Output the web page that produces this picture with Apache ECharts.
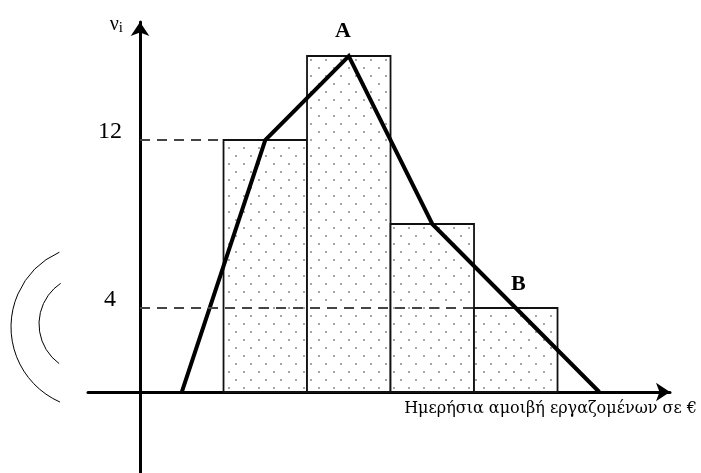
<!DOCTYPE html>
<html>
<head>
<meta charset="utf-8">
<script src="https://cdn.jsdelivr.net/npm/echarts@6/dist/echarts.min.js"></script>
<style>
  html, body { margin: 0; padding: 0; background: #fff; }
  #chart { width: 701px; height: 473px; }
</style>
</head>
<body>
<div id="chart"></div>
<script>
// class edges (in class-width units) and frequencies
var edges = [1, 2, 3, 4, 5];
var freqs = [12, 16, 8, 4];
// frequency polygon (midpoints, closed to zero on both sides)
var polyX = [0.5, 1.5, 2.5, 3.5, 4.5, 5.5];
var polyY = [0, 12, 16, 8, 4, 0];
var notes = [
  { name: 'A', x: 2.43, y: 17.2 },
  { name: 'B', x: 4.53, y: 5.14 }
];

var serif = 'Liberation Serif';

// dotted fill
function dotPattern() {
  var c = document.createElement('canvas');
  c.width = 15; c.height = 16;
  var ctx = c.getContext('2d');
  ctx.fillStyle = '#fff';
  ctx.fillRect(0, 0, 15, 16);
  ctx.fillStyle = '#a5a5a5';
  ctx.fillRect(3, 3, 2, 2);
  ctx.fillRect(10, 11, 2, 2);
  return c;
}
var pattern = { image: dotPattern(), repeat: 'repeat' };

var bars = [];
for (var i = 0; i < freqs.length; i++) {
  bars.push([edges[i], edges[i + 1], freqs[i]]);
}
var poly = polyX.map(function (x, i) { return [x, polyY[i]]; });

// dashed guides from the axis to the bars, labelled with the frequency
function guide(f, xEnd) {
  return [{ name: String(f), coord: [0, f] }, { coord: [xEnd, f] }];
}

var chart = echarts.init(document.getElementById('chart'));
var option = {
  animation: false,
  grid: { left: 88, right: 31, top: 22, bottom: 0 },
  xAxis: {
    type: 'value',
    min: -0.623,
    max: 6.347,
    name: 'Ημερήσια αμοιβή εργαζομένων σε €',
    nameLocation: 'end',
    nameGap: 27,
    nameTextStyle: {
      fontFamily: 'DejaVu Serif', fontSize: 16, color: '#000',
      align: 'right', verticalAlign: 'top', padding: [9, 0, 0, 0]
    },
    axisLine: {
      onZero: true,
      symbol: ['none', 'arrow'],
      symbolSize: [14, 14],
      lineStyle: { color: '#000', width: 3 }
    },
    axisTick: { show: false },
    axisLabel: { show: false },
    splitLine: { show: false }
  },
  yAxis: {
    type: 'value',
    min: -3.857,
    max: 17.62,
    name: '{a|ν}{b|i}',
    nameLocation: 'end',
    nameGap: 9,
    nameTextStyle: {
      align: 'right', verticalAlign: 'top', padding: [0, 17, 0, 0],
      rich: {
        a: { fontFamily: serif, fontSize: 20, color: '#000' },
        b: { fontFamily: serif, fontSize: 15, color: '#000', padding: [8, 0, 0, 0] }
      }
    },
    axisLine: {
      onZero: true,
      symbol: ['none', 'arrow'],
      symbolSize: [14, 14],
      lineStyle: { color: '#000', width: 3 }
    },
    axisTick: { show: false },
    axisLabel: { show: false },
    splitLine: { show: false }
  },
  series: [
    {
      type: 'custom',
      data: bars,
      z: 2,
      renderItem: function (params, api) {
        var p0 = api.coord([api.value(0), api.value(2)]);
        var p1 = api.coord([api.value(1), 0]);
        return {
          type: 'rect',
          shape: { x: p0[0], y: p0[1], width: p1[0] - p0[0], height: p1[1] - p0[1] },
          style: { fill: pattern, stroke: '#111', lineWidth: 1.8 }
        };
      }
    },
    {
      type: 'line',
      data: poly,
      z: 4,
      symbol: 'none',
      lineStyle: { color: '#000', width: 4, join: 'miter' },
      markLine: {
        silent: true,
        symbol: 'none',
        label: {
          show: true, position: 'start', formatter: '{b}',
          align: 'center', distance: 30, offset: [0, -8],
          fontFamily: serif, fontSize: 24, color: '#000'
        },
        lineStyle: { color: '#444', width: 2, type: [10, 7] },
        data: [guide(freqs[0], edges[0]), guide(freqs[3], edges[3])]
      },
      markPoint: {
        symbol: 'circle',
        symbolSize: 1,
        itemStyle: { color: 'transparent' },
        label: {
          show: true, position: 'inside', formatter: '{b}',
          fontFamily: serif, fontSize: 22, fontWeight: 'bold', color: '#000'
        },
        data: notes.map(function (n) { return { name: n.name, coord: [n.x, n.y] }; })
      }
    }
  ],
  graphic: [
    {
      type: 'arc',
      shape: { cx: 93, cy: 327, r: 82, startAngle: 1.985, endAngle: 4.29 },
      style: { stroke: '#000', fill: null, lineWidth: 1 }
    },
    {
      type: 'arc',
      shape: { cx: 88, cy: 324, r: 49, startAngle: 2.2, endAngle: 4.12 },
      style: { stroke: '#000', fill: null, lineWidth: 1 }
    }
  ]
};
chart.setOption(option);
</script>
</body>
</html>
